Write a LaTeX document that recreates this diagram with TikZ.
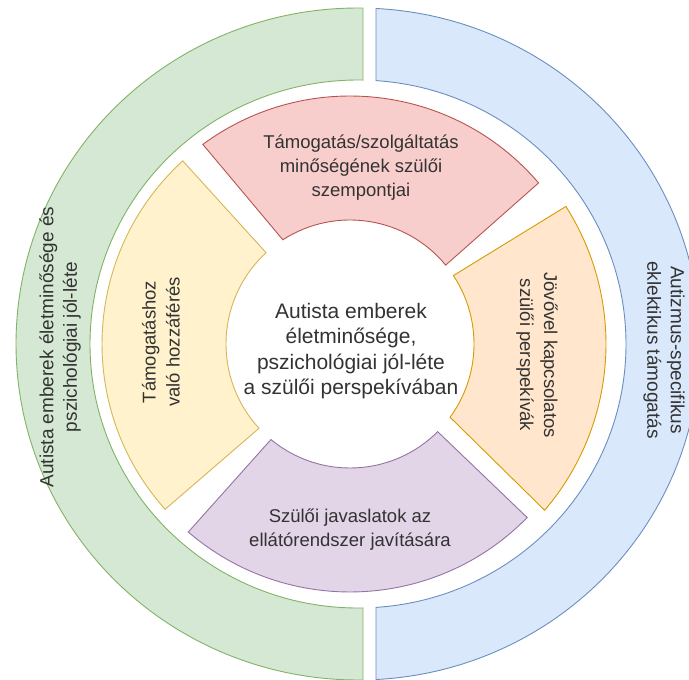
\documentclass[tikz,border=0pt]{standalone}
\usepackage{fontspec}
\setmainfont{Liberation Sans}
\definecolor{gfill}{HTML}{D5E8D4}\definecolor{gline}{HTML}{82B366}
\definecolor{bfill}{HTML}{DAE8FC}\definecolor{bline}{HTML}{6C8EBF}
\definecolor{rfill}{HTML}{F8CECC}\definecolor{rline}{HTML}{B85450}
\definecolor{yfill}{HTML}{FFF2CC}\definecolor{yline}{HTML}{D6B656}
\definecolor{ofill}{HTML}{FFE6CC}\definecolor{oline}{HTML}{D79B00}
\definecolor{pfill}{HTML}{E1D5E7}\definecolor{pline}{HTML}{9673A6}
\definecolor{txt}{HTML}{333333}
\tikzset{
  seg/.style={line width=0.9pt, line join=miter},
  lbl/.style={text=txt, align=center, inner sep=0pt},
  big/.style={font=\fontsize{21}{25.5}\selectfont},
  mid/.style={font=\fontsize{18.5}{24}\selectfont},
  ringtxt/.style={font=\fontsize{19}{23.5}\selectfont},
}
\begin{document}
\begin{tikzpicture}[x=1pt,y=1pt]
\useasboundingbox (0,0) rectangle (689,-680);
\coordinate (C1) at (358,-344);
\coordinate (C2) at (350,-344);
% outer ring halves
\draw[seg, fill=gfill, draw=gline]
  ([shift={(C1)}]89.16:342pt and 336pt)
  arc[start angle=89.16, end angle=270.84, x radius=342pt, y radius=336pt]
  -- ([shift={(C1)}]271.07:268pt and 264pt)
  arc[start angle=271.07, end angle=88.93, x radius=268pt, y radius=264pt] -- cycle;
\draw[seg, fill=bfill, draw=bline]
  ([shift={(C1)}]86.98:342pt and 336pt)
  arc[start angle=86.98, end angle=-86.98, x radius=342pt, y radius=336pt]
  -- ([shift={(C1)}]-86.15:268pt and 264pt)
  arc[start angle=-86.15, end angle=86.15, x radius=268pt, y radius=264pt] -- cycle;
% inner segments
\draw[seg, fill=rfill, draw=rline]
  ([shift={(C2)}]126.4:248pt) arc[start angle=126.4, end angle=40.5, radius=248pt]
  -- ([shift={(C2)}]39.5:124pt) arc[start angle=39.5, end angle=122.8, radius=124pt] -- cycle;
\draw[seg, fill=yfill, draw=yline]
  ([shift={(C2)}]132.4:248pt) arc[start angle=132.4, end angle=221.8, radius=248pt]
  -- ([shift={(C2)}]222.8:124pt) arc[start angle=222.8, end angle=132.6, radius=124pt] -- cycle;
\draw[seg, fill=pfill, draw=pline]
  ([shift={(C2)}]229.3:248pt) arc[start angle=229.3, end angle=315.6, radius=248pt]
  -- ([shift={(C2)}]315:124pt) arc[start angle=315, end angle=230.4, radius=124pt] -- cycle;
\draw[seg, fill=ofill, draw=oline]
  ([shift={(C2)}]-40.5:256pt) arc[start angle=-40.5, end angle=32.5, radius=256pt]
  -- ([shift={(C2)}]33.5:124pt) arc[start angle=33.5, end angle=-36.2, radius=124pt] -- cycle;
% labels
\node[lbl, big] (center) at (351,-351) {Autista emberek\\életminősége,\\pszichológiai jól-léte\\a szülői perspekívában};
\node[lbl, mid] (red) at (361,-168) {Támogatás/szolgáltatás\\minőségének szülői\\szempontjai};
\node[lbl, mid] (purple) at (350,-530) {Szülői javaslatok az\\ellátórendszer javítására};
\node[lbl, mid, rotate=90] (yellow) at (161,-342) {Támogatáshoz\\való hozzáférés};
\node[lbl, mid, rotate=-90] (orange) at (537,-355) {Jövővel kapcsolatos\\szülői perspekívák};
\node[lbl, ringtxt, rotate=90] (green) at (60,-347) {Autista emberek életminősége és\\pszichológiai jól-léte};
\node[lbl, ringtxt, rotate=-90] (blue) at (664,-350) {Autizmus-specifikus\\eklektikus támogatás};
\end{tikzpicture}
\end{document}
